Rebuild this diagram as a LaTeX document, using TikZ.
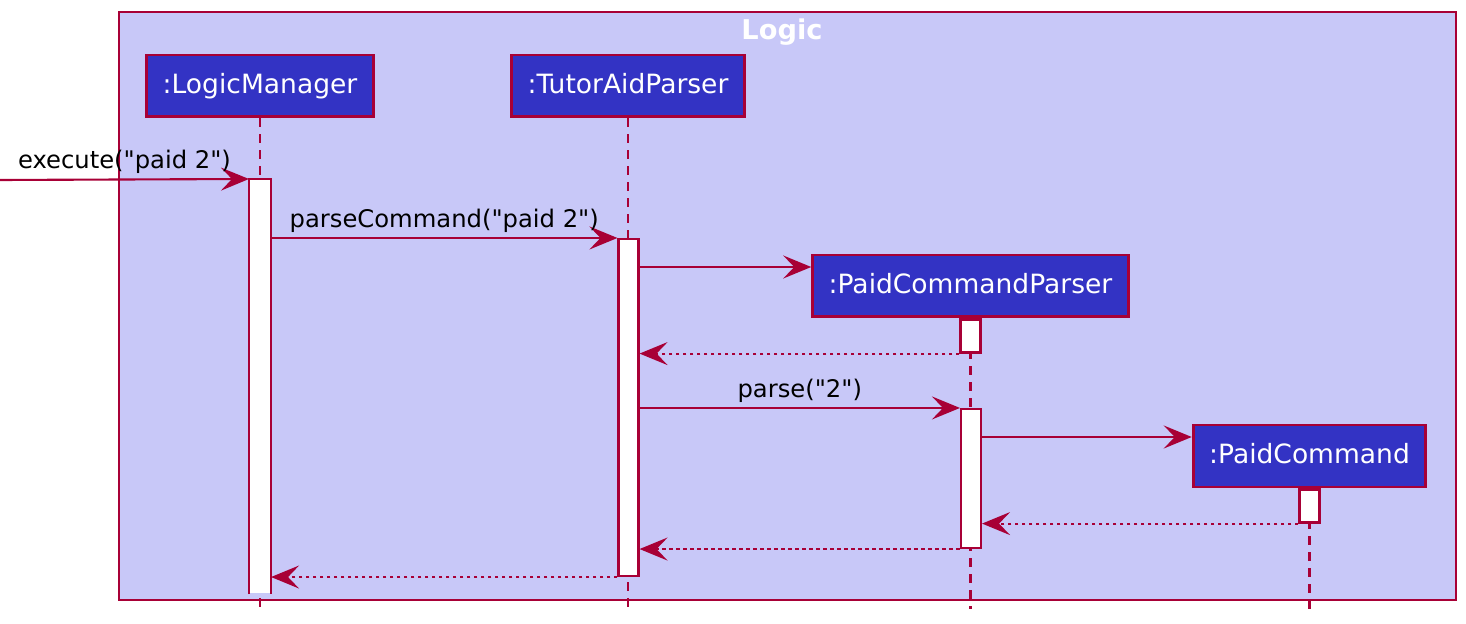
\documentclass[tikz,border=0pt]{standalone}
\usepackage{fontspec}
\setmainfont{DejaVu Sans}
\usetikzlibrary{arrows.meta}
\definecolor{umlred}{HTML}{A80036}
\definecolor{umlblue}{HTML}{3333C4}
\definecolor{umllilac}{HTML}{C8C8F8}
\tikzset{
  part/.style={draw=umlred, line width=1.7pt, fill=umlblue, text=white, inner xsep=0.32cm, minimum height=1.24cm, text height=0.9em, text depth=0.07em, font=\fontsize{15.1}{18}\selectfont},
  actbar/.style={draw=umlred, line width=1.2pt, fill=white, minimum width=0.4cm, inner sep=0pt},
  life/.style={draw=umlred, line width=1.2pt, dash pattern=on 0.18cm off 0.14cm},
  msg/.style={draw=umlred, line width=1.2pt, -{Stealth[length=0.56cm,width=0.46cm,inset=0.22cm]}},
  ret/.style={msg, dash pattern=on 0.07cm off 0.07cm},
  lbl/.style={font=\fontsize{13.8}{16}\selectfont, inner sep=2.5pt, above}
}
\newcommand{\qt}{\textquotedbl}
\begin{document}
\begin{tikzpicture}[x=0.02cm, y=-0.02cm]
    \useasboundingbox (0,0) rectangle (1466,624);

    % Frame
    \draw[draw=umlred, fill=umllilac, line width=1.2pt] (119,12) rectangle (1456,600);
    \node[anchor=base, text=white, font=\fontsize{15.5}{18}\selectfont\bfseries] (title) at (782,39.5) {Logic};

    % Participants
    \node[part] (lm) at (260,86) {:LogicManager};
    \node[part] (tp) at (628,86) {:TutorAidParser};
    \node[part] (pcp) at (970.5,286) {:PaidCommandParser};
    \node[part] (pc) at (1309.5,456) {:PaidCommand};

    % Lifelines
    \draw[life] (lm.south) -- ++(0,491);
    \draw[life] (tp.south) -- ++(0,491);
    \draw[life] (pcp.south) -- ++(0,291);
    \draw[life] (pc.south) -- ++(0,125);

    % Activation bars
    \node[actbar, draw=none, minimum height=8.26cm] (lmBar) at (260,386.5) {};
    \draw[draw=umlred, line width=1.2pt] (lmBar.south west) -- (lmBar.north west) -- (lmBar.north east) -- (lmBar.south east);
    \node[actbar, minimum height=6.74cm] (tpBar) at (628.5,407.5) {};
    \node[actbar, anchor=north, minimum height=0.66cm] (pcpBarA) at (pcp.south) {};
    \node[actbar, minimum height=2.78cm] (pcpBarB) at (971,478.5) {};
    \node[actbar, anchor=north, minimum height=0.66cm] (pcBar) at (pc.south) {};

    % Messages
    \coordinate (caller) at (0,180);
    \coordinate (pcpIn) at ([yshift=0.38cm]pcp.west);
    \coordinate (pcIn) at ([yshift=0.38cm]pc.west);
    \draw[msg] (caller) -- node[lbl] {execute(\qt paid 2\qt)} (lmBar.north west);
    \draw[msg] (lmBar.east |- tpBar.north) -- node[lbl] {parseCommand(\qt paid 2\qt)} (tpBar.north west);
    \draw[msg] (tpBar.east |- pcpIn) -- (pcpIn);
    \draw[ret] (pcpBarA.south west) -- (tpBar.east |- pcpBarA.south);
    \draw[msg] (tpBar.east |- pcpBarB.north) -- node[lbl] {parse(\qt 2\qt)} (pcpBarB.north west);
    \draw[msg] (pcpBarB.east |- pcIn) -- (pcIn);
    \draw[ret] (pcBar.south west) -- (pcpBarB.east |- pcBar.south);
    \draw[ret] (pcpBarB.south west) -- (tpBar.east |- pcpBarB.south);
    \draw[ret] (tpBar.south west) -- (lmBar.east |- tpBar.south);

\end{tikzpicture}
\end{document}
